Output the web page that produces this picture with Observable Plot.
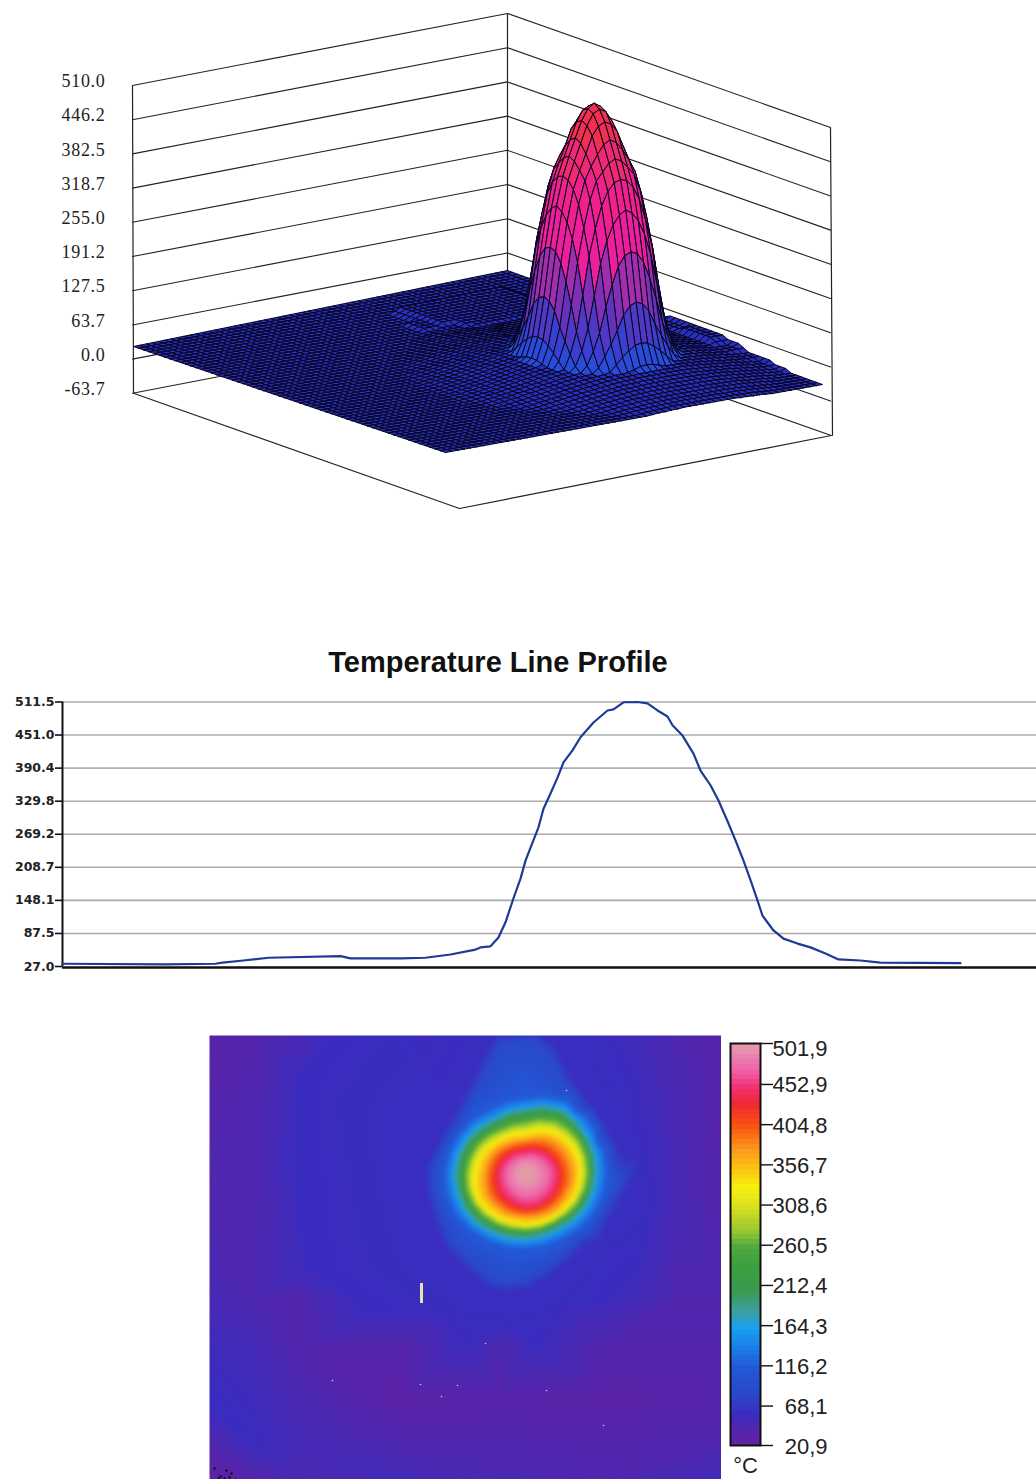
<!DOCTYPE html>
<html><head><meta charset="utf-8">
<script src="https://cdn.jsdelivr.net/npm/d3@7"></script>
<script src="https://cdn.jsdelivr.net/npm/@observablehq/plot@0.6"></script>
<style>
html,body{margin:0;padding:0;background:#fff}
#page{position:relative;width:1036px;height:1479px;overflow:hidden;background:#fff}
#page>*{position:absolute}
#title{left:0;width:996px;top:646px;text-align:center;font:bold 29px "Liberation Sans",sans-serif;color:#111}
</style></head><body><div id="page"><div id="title">Temperature Line Profile</div></div>
<script>
/* ---------- 3-D surface ---------- */
const zLevels=[510.0,446.2,382.5,318.7,255.0,191.2,127.5,63.7,0.0,-63.7];
/* height code of the floor's ridge and right shoulder: rows v=40..0, columns u=0..40 */
const floorRows=[
"00000000000000000000000000000000000000000",
"00000000000000000000000000000000000000000",
"00000000000000000000000000000000000000000",
"00000000000000000000000000000000000000000",
"00000000000000000000000000000000000000000",
"00000000000000000000000012222222222210000",
"00000000000000000000000012222222222210000",
"00000000000000000000000012222222222210000",
"00000000000000000000000112222222222211000",
"00000000000000000000000112222222222211000",
"00000000000000000000000112222222222211000",
"00000000000000000000000011222222222110000",
"00000000000000000000000001122222221100000",
"00000000000000000000000000111111111000000",
"00000000000000000000000000000000000000001",
"00000000000000000000000000000000000000001",
"00000000000000000000000000000000000000112",
"00000000000000000000000000000000000000113",
"00000000000000000000000000000000000001123",
"00000000000000000000000000000000000001234",
"00000000000000000000000000000000000001234",
"00000000000000000000000000000000000011345",
"00000000000000000000000000000000000012345",
"00000000000000000000000000000000000012345",
"00000000000000000000000000000000000012355",
"00000000000000000000000000000000000012355",
"00000000000000000000000000000000000012355",
"00000000000000000000000000000000000012355",
"00000000000000000000000000000000000012344",
"00000000000000000000000000000000000012334",
"00000000000000000000000000000000000011233",
"00000000000000000000000000000000000011222",
"00000000000000000000000000000000000000122",
"00000000000000000000000000000000000000112",
"00000000000000000000000000000000000000011",
"00000000000000000000000000000000000000001",
"00000000000000000000000000000000000000000",
"00000000000000000000000000000000000000000",
"00000000000000000000000000000000000000000",
"00000000000000000000000000000000000000000",
"00000000000000000000000000000000000000000"];
/* peak and skirt heights read outward from the summit, one quadrant (offsets in mesh cells) */
const peakRows=[
[508,500,480,450,418,383,330,255,165,92,55,46,44,42,40,38,36,34,32,30,29,27,26,24,23],
[500,494,474,443,412,379,322,250,160,90,54,46,44,42,40,38,36,34,32,30,29,27,26,24,23],
[480,474,458,427,398,365,306,232,145,82,50,46,44,42,40,38,36,34,32,30,29,27,26,24,23],
[450,443,427,407,383,340,278,200,118,72,47,45,44,42,40,38,36,34,32,30,29,27,26,24,23],
[418,412,398,383,350,300,238,160,95,60,46,45,43,41,39,38,36,34,32,30,28,27,26,24,23],
[383,379,365,340,300,250,180,114,74,48,46,45,43,41,39,37,35,33,32,30,28,27,25,24,22],
[330,322,306,278,238,180,122,82,55,46,45,44,42,40,38,37,35,33,31,29,28,26,25,23,22],
[255,250,232,200,160,114,82,58,46,45,44,43,41,39,38,36,34,32,31,29,27,26,24,23,22],
[165,160,145,118,95,74,55,46,45,44,43,42,40,38,37,35,33,32,30,28,27,25,24,22,22],
[92,90,82,72,60,48,46,45,44,43,42,40,39,37,36,34,32,31,29,27,26,24,23,22,22],
[55,54,50,47,46,46,45,44,43,42,40,39,37,36,34,33,31,29,28,26,25,23,22,22,22],
[46,46,46,45,45,45,44,43,42,40,39,38,36,35,33,31,30,28,27,25,24,22,22,22,22],
[44,44,44,44,43,43,42,41,40,39,37,36,35,33,32,30,29,27,26,24,23,22,22,22,22],
[42,42,42,42,41,41,40,39,38,37,36,35,33,32,30,29,27,26,24,23,22,22,22,22,22],
[40,40,40,40,39,39,38,38,37,36,34,33,32,30,29,27,26,24,23,22,22,22,22,22,22],
[38,38,38,38,38,37,37,36,35,34,33,31,30,29,27,26,24,23,22,22,22,22,22,22,22],
[36,36,36,36,36,35,35,34,33,32,31,30,29,27,26,24,23,22,22,22,22,22,22,22,22],
[34,34,34,34,34,33,33,32,32,31,29,28,27,26,24,23,22,22,22,22,22,22,22,22,22],
[32,32,32,32,32,32,31,31,30,29,28,27,26,24,23,22,22,22,22,22,22,22,22,22,22],
[30,30,30,30,30,30,29,29,28,27,26,25,24,23,22,22,22,22,22,22,22,22,22,22,22],
[29,29,29,29,28,28,28,27,27,26,25,24,23,22,22,22,22,22,22,22,22,22,22,22,22],
[27,27,27,27,27,27,26,26,25,24,23,22,22,22,22,22,22,22,22,22,22,22,22,22,22],
[26,26,26,26,26,25,25,24,24,23,22,22,22,22,22,22,22,22,22,22,22,22,22,22,22],
[24,24,24,24,24,24,23,23,22,22,22,22,22,22,22,22,22,22,22,22,22,22,22,22,22],
[23,23,23,23,23,22,22,22,22,22,22,22,22,22,22,22,22,22,22,22,22,22,22,22,22]];
const surfaceBreaks=[48,80,110,140,165,190,220,320,382,446];
const surfaceColors=["#2a2fc0","#2a4ad8","#3a3fd0","#4f38c4","#6432bc","#8030b4","#a02eae","#ee1f9c","#f0208c","#f02a72","#f0304e"];

const N=60,peakU=42,peakV=22,k=34.2/63.75;
function height(u,v){
  const d=+(floorRows[40-Math.round(v*40/N)][Math.round(u*40/N)]||0), base=22+5*d;
  const i=Math.abs(u-peakU),j=Math.abs(v-peakV);
  const p=(i<25&&j<25)?peakRows[i][j]:0;
  return Math.max(base,p);
}
/* the chart's oblique view of mesh vertex (u,v) at height z */
function project(u,v,z){
  const a=u/N,b=v/N;
  const x=(1-a)*(1-b)*445+a*(1-b)*822+(1-a)*b*133+a*b*507;
  const y=(1-a)*(1-b)*452+a*(1-b)*384+(1-a)*b*346+a*b*270;
  return {x,y:y-(z-22)*k};
}
const cells=[];
for(let u=N-1;u>=0;u--)for(let v=N-1;v>=0;v--){
  const cs=[[u,v],[u+1,v],[u+1,v+1],[u,v+1],[u,v]];
  const zs=cs.map(c=>height(c[0],c[1]));
  const mean=d3.mean(zs.slice(0,4));
  cs.forEach((c,n)=>{const p=project(c[0],c[1],zs[n]);cells.push({cell:u*100+v,x:p.x,y:p.y,z:mean});});
}
const yL=z=>85+(510-z)*k, yB=z=>13+(510-z)*k, yR=z=>127+(510-z)*k;
const wallLines=zLevels.flatMap(z=>[{x:132,y:yL(z),z},{x:507,y:yB(z),z},{x:830,y:yR(z),z}]);
const boxEdges=[
 {e:"l",x:132,y:yL(510)},{e:"l",x:133,y:yL(-63.7)},{e:"l",x:459,y:508},{e:"l",x:832,y:yR(-63.7)},{e:"l",x:830,y:yR(510)},
 {e:"b",x:507,y:yB(510)},{e:"b",x:507,y:yB(-63.7)}];
const surface=Plot.plot({width:1036,height:600,margin:0,style:{letterSpacing:"0.7px"},
  x:{domain:[0,1036],range:[0,1036],axis:null},y:{domain:[0,600],range:[0,600],axis:null},
  color:{type:"threshold",domain:surfaceBreaks,range:surfaceColors},
  marks:[
    Plot.line(wallLines,{x:"x",y:"y",z:"z",stroke:"#222",strokeWidth:1.1}),
    Plot.line(boxEdges,{x:"x",y:"y",z:"e",stroke:"#222",strokeWidth:1.2}),
    Plot.text(zLevels,{x:()=>105,y:yL,text:d=>d.toFixed(1),textAnchor:"end",dy:-4,fontSize:18,fontFamily:"Liberation Serif",fill:"#222"}),
    Plot.line(cells,{x:"x",y:"y",z:"cell",fill:"z",stroke:"#05051f",strokeWidth:1,curve:"linear-closed"})
  ]});
surface.style.left="0";surface.style.top="0";surface.style.position="absolute";
document.getElementById("page").append(surface);

/* ---------- line profile ---------- */
const profileTicks=[511.5,451.0,390.4,329.8,269.2,208.7,148.1,87.5,27.0];
const profileX=[0,103,153,160,181,206,278,288,338,363,388,413,418,428,436,443,451,458,463,470,476,481,488,495,501,510,518,531,545,551,561,575,585,595,605,610,620,631,638,648,656,666,673,681,688,695,700,711,721,735,748,763,776,798,818,898];
const profileT=[32,31,32,34,38,43,46,42,42,43,49,58,62,64,80,108,152,188,221,254,282,316,344,373,401,423,447,474,496,498,511,511.5,509,496,485,469,450,417,386,359,331,289,258,221,185,148,120,93,78,69,62,51,40,38,34,33];
const profile=profileX.map((x,i)=>({x,t:profileT[i]}));
const gridTints=["#b0a8a0","#a8acb0","#a8b0b8","#b0aca8","#b0a8a8","#aeaca8","#a8acb0","#b0a8a4"];
const linePlot=Plot.plot({width:1036,height:345,marginLeft:62,marginRight:0,marginTop:61.5,marginBottom:19,
  x:{domain:[0,974],axis:null},y:{domain:[27,511.5],axis:null},
  marks:[
    Plot.ruleY(profileTicks.slice(0,8),{y:d=>d,stroke:(d,i)=>gridTints[i],strokeWidth:1.6}),
    Plot.axisY({ticks:profileTicks,anchor:"left",label:null,tickSize:7,tickPadding:1,strokeWidth:1.6,stroke:"#111",tickFormat:d=>d.toFixed(1),fontSize:12.5,fontWeight:"bold",fontFamily:"DejaVu Sans",fill:"#222"}),
    Plot.ruleX([0],{stroke:"#111",strokeWidth:2}),
    Plot.ruleY([27],{stroke:"#111",strokeWidth:2.6,dy:1}),
    Plot.line(profile,{x:"x",y:"t",stroke:"#1f3a96",strokeWidth:2.2})
  ]});
linePlot.style.left="0";linePlot.style.top="640px";linePlot.style.position="absolute";
document.getElementById("page").append(linePlot);

/* ---------- thermal image ---------- */
const heatStops=[20.9,30,40,55,78,110,134,158,178,203,230,254,274,302,326,350,370,401,425,445,466,490,501.9];
const heatColors=["#5e26a6","#5a22a8","#4e28b0","#3a2cc0","#2a48c8","#2258d8","#1c7ee8","#18a0f0","#3ca0a0","#3a9a50","#3aa040","#50a840","#98c830","#d8e020","#f8f010","#fcc010","#fb9b20","#f85010","#f02830","#f03070","#f060a8","#e890b0","#e0a0a0"];
const hotCentreX=525,hotCentreY=1173,hotPeak=502;
const hotRingTemps=[110,150,190,235,285,325,370,410,440,470,495];
/* isotherm radius along rays every 15 degrees, clockwise from east */
const hotRingRadii=[
[82,81,80,78,76,76,76,77,78,80,82,82,82,80,78,76,74,75,76,80,85,84,83,83],
[73,72,71,69,67,67,68,69,70,72,73,73,73,72,70,68,65,66,67,72,76,75,74,74],
[68,67,66,64,62,62,63,64,65,67,68,68,68,67,65,62,60,61,62,67,71,70,69,69],
[65,64,62,60,58,58,58,59,60,62,63,63,62,61,59,56,54,54,55,60,65,66,66,66],
[60,59,58,56,55,55,55,55,56,57,58,58,57,55,53,50,47,47,47,52,56,58,60,60],
[56,55,54,53,52,51,51,51,52,53,54,53,51,49,47,44,42,41,40,45,50,53,55,56],
[47,47,46,46,45,44,43,43,44,44,44,42,40,39,38,36,34,33,33,36,40,43,45,46],
[37,38,38,38,38,38,38,37,36,36,35,34,33,31,30,29,28,27,27,29,31,33,34,36],
[33,33,33,34,34,34,33,32,31,30,29,28,27,26,25,24,23,22,22,24,26,28,30,32],
[23,23,23,23,23,23,23,22,21,20,20,19,19,18,17,16,16,16,16,17,18,19,20,22],
[9,9,9,9,9,9,9,8,8,8,8,8,8,8,8,8,8,8,8,8,8,8,9,9]];
const haloX=[477,455,433,433,443,453,473,493,508,523,542,560,580,600,611,622,611,600,584,567,557,547,533,500,488];
const haloY=[1087,1128,1170,1184,1220,1243,1262,1280,1282,1280,1270,1257,1237,1217,1198,1180,1156,1133,1110,1087,1068,1050,1038,1043,1065];
const haloT=haloX.map(()=>80);
const haloEdgeX=[470,447,424,424,434,446,466,490,508,526,547,566,588,608,620,631,620,607,592,574,565,556,540,494,480];
const haloEdgeY=[1082,1124,1170,1185,1225,1250,1270,1289,1291,1289,1278,1264,1243,1222,1202,1180,1152,1127,1105,1082,1064,1045,1035,1035,1061];
const haloEdgeT=haloEdgeX.map(()=>57);
const plateauX=[640,625,600,400,350,370,390,450,510,560,600,640];
const plateauY=[1160,1090,1040,1040,1100,1200,1270,1310,1320,1300,1240,1220];
const plateauT=[56,56,56,56,56,56,56,56,56,56,56,56];
const blobX=[300,297,310,367,467,533,600,633,650,633,617,583,333];
const blobY=[1080,1163,1263,1307,1337,1340,1297,1263,1197,1130,1063,1037,1037];
const blobT=[55,55,55,55,55,55,55,55,55,55,55,55,55];
const backX=[209,260,300,420,650,721,209,260,680,721,209,260,680,721,209,250,290,680,721,209,250,300,400,500,600,721,209,250,300,400,500,600,721,209,250,300,400,500,600,721,209,250,300,400,500,600,721];
const backY=[1035,1035,1035,1035,1035,1035,1100,1100,1100,1100,1200,1200,1200,1200,1300,1300,1300,1300,1300,1350,1350,1350,1350,1350,1350,1350,1400,1400,1400,1400,1400,1400,1400,1440,1440,1440,1440,1440,1440,1440,1479,1479,1479,1479,1479,1479,1479];
const backT=[32,36,42,52,45,32,35,40,42,33,38,40,44,35,45,40,35,38,38,52,48,36,33,38,36,36,56,52,42,30,32,30,34,38,55,46,38,38,36,38,26,34,42,48,42,38,50];
const heatPoints=[
  ...backX.map((x,i)=>({x,y:backY[i],t:backT[i]})),
  ...blobX.map((x,i)=>({x,y:blobY[i],t:blobT[i]})),
  ...plateauX.map((x,i)=>({x,y:plateauY[i],t:plateauT[i]})),
  ...haloEdgeX.map((x,i)=>({x,y:haloEdgeY[i],t:haloEdgeT[i]})),
  ...haloX.map((x,i)=>({x,y:haloY[i],t:haloT[i]})),
  ...hotRingTemps.flatMap((t,n)=>hotRingRadii[n].map((r,i)=>({x:hotCentreX+r*Math.cos(i*Math.PI/12),y:hotCentreY+r*Math.sin(i*Math.PI/12),t}))),
  {x:hotCentreX,y:hotCentreY,t:hotPeak}];
const speckX=[214,220,226,231,218,224,229,235];
const speckY=[1468,1476,1470,1473,1478,1478,1477,1479];
const glintX=[332,441,457,546,603,485,420,566];
const glintY=[1380,1396,1385,1390,1425,1343,1384,1090];
const heatScale={type:"linear",domain:heatStops,range:heatColors,interpolate:"rgb",clamp:true};
const thermal=Plot.plot({width:512,height:444,margin:0,
  x:{domain:[209,721],axis:null},y:{domain:[1035,1479],range:[0,444],axis:null},color:heatScale,
  marks:[
    Plot.raster(heatPoints,{x:"x",y:"y",fill:"t",x1:209,x2:721,y1:1035,y2:1479,interpolate:"barycentric",pixelSize:1,blur:1.5}),
    Plot.ruleX([421],{y1:1283,y2:1303,stroke:"#e8e2a0",strokeWidth:3}),
    Plot.dot(speckX.map((x,i)=>({x,y:speckY[i]})),{x:"x",y:"y",r:1.2,fill:"#111"}),
    Plot.dot(glintX.map((x,i)=>({x,y:glintY[i]})),{x:"x",y:"y",r:0.8,fill:"#cfc8ee"})
  ]});
thermal.style.left="209px";thermal.style.top="1035px";thermal.style.position="absolute";
document.getElementById("page").append(thermal);

/* ---------- colour bar ---------- */
const barTicks=[501.9,452.9,404.8,356.7,308.6,260.5,212.4,164.3,116.2,68.1,20.9];
const barBands=d3.range(20.9,501.9,6);
const colorBar=Plot.plot({width:311,height:449,marginLeft:5,marginRight:276,marginTop:13,marginBottom:34,
  x:{domain:[0,1],axis:null},y:{domain:[20.9,501.9],axis:null},color:heatScale,
  marks:[
    Plot.rect(barBands,{x1:0,x2:1,y1:d=>d,y2:d=>Math.min(d+6,501.9),fill:d=>d,shapeRendering:"crispEdges"}),
    Plot.frame({stroke:"#111",strokeWidth:2}),
    Plot.axisY({ticks:barTicks,anchor:"right",label:null,tickSize:12,tickFormat:()=>"",stroke:"#111",strokeWidth:1.4}),
    Plot.text(barTicks.slice(1),{x:()=>1,y:d=>d,dx:67,dy:1,text:d=>d.toFixed(1).replace(".",","),textAnchor:"end",fontSize:22,fontFamily:"Liberation Sans",fill:"#222"}),
    Plot.text(barTicks.slice(0,1),{x:()=>1,y:d=>d,dx:67,dy:5,text:d=>d.toFixed(1).replace(".",","),textAnchor:"end",fontSize:22,fontFamily:"Liberation Sans",fill:"#222"}),
    Plot.text(["°C"],{frameAnchor:"bottom",dy:27,fontSize:22,fontFamily:"Liberation Sans",fill:"#222"})
  ]});
colorBar.style.left="725px";colorBar.style.top="1030px";colorBar.style.position="absolute";
document.getElementById("page").append(colorBar);
</script></body></html>
